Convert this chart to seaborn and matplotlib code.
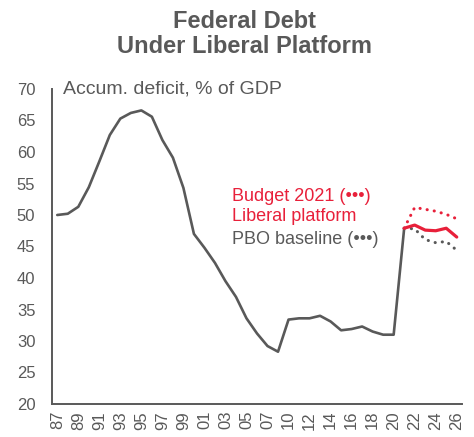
import numpy as np
import pandas as pd
import matplotlib
matplotlib.use("Agg")
import matplotlib.pyplot as plt
import seaborn as sns

# ---------------- data ----------------
categories = ['87', '88', '89', '90', '91', '92', '93', '94', '95', '96',
              '97', '98', '99', '00', '01', '02', '03', '04', '05', '06',
              '07', '09', '10', '11', '12', '13', '14', '15', '16', '17',
              '18', '19', '20', '21', '22', '23', '24', '25', '26']

historical = [50.0, 50.2, 51.3, 54.4, 58.5, 62.7, 65.3, 66.2, 66.6, 65.6,
              61.9, 59.1, 54.3, 47.0, 44.8, 42.4, 39.5, 37.0, 33.6, 31.2,
              29.2, 28.3, 33.4, 33.6, 33.6, 34.0, 33.1, 31.7, 31.9, 32.3,
              31.5, 31.0, 31.0, 47.9]

liberal_platform = [47.9, 48.4, 47.6, 47.5, 47.9, 46.5]
budget_2021 = [47.9, 51.2, 50.9, 50.6, 50.1, 49.4]
pbo_baseline = [47.9, 47.8, 46.1, 45.6, 45.8, 44.4]

y_ticks = [20, 25, 30, 35, 40, 45, 50, 55, 60, 65, 70]

# ---------------- style ----------------
sns.set_style("white")
plt.rcParams['font.family'] = ['Liberation Sans', 'DejaVu Sans']

GRAY = '#595959'
RED = '#E8203A'

fig = plt.figure(figsize=(4.74, 4.37), dpi=100)
ax = fig.add_axes([52 / 474, 1 - 404 / 437, 410 / 474, 315 / 437])

pos = np.arange(len(categories))
n_hist = len(historical)
proj_pos = pos[n_hist - 1:]

hist_df = pd.DataFrame({'x': pos[:n_hist], 'y': historical})
sns.lineplot(data=hist_df, x='x', y='y', ax=ax, color=GRAY, linewidth=1.9)

sns.lineplot(x=proj_pos, y=budget_2021, ax=ax, color=RED, linewidth=2.2,
             linestyle=(0, (0.05, 2.3)), dash_capstyle='round')
sns.lineplot(x=proj_pos, y=pbo_baseline, ax=ax, color=GRAY, linewidth=2.2,
             linestyle=(0, (0.05, 2.3)), dash_capstyle='round')
sns.lineplot(x=proj_pos, y=liberal_platform, ax=ax, color=RED, linewidth=2.3)

ax.set_xlim(-0.5, len(categories) - 0.5)
ax.set_ylim(20, 70)

# axes / ticks
for s in ['top', 'right']:
    ax.spines[s].set_visible(False)
for s in ['left', 'bottom']:
    ax.spines[s].set_color(GRAY)
    ax.spines[s].set_linewidth(1.4)

ax.set_yticks(y_ticks)
ax.tick_params(axis='y', direction='in', length=5, width=1.2, color=GRAY,
               labelcolor=GRAY, labelsize=12, pad=12)

ax.set_xticks(pos[::2])
ax.set_xticklabels(categories[::2], rotation=90)
ax.set_xticks(np.arange(-0.5, len(categories), 3), minor=True)
ax.tick_params(axis='x', which='major', length=0, labelcolor=GRAY,
               labelsize=12, pad=5)
ax.tick_params(axis='x', which='minor', direction='in', length=5, width=1.2,
               color=GRAY)
ax.set_xlabel('')
ax.set_ylabel('')

# unit label
ax.annotate('Accum. deficit, % of GDP', xy=(11 / 410, 1.0),
            xycoords='axes fraction', ha='left', va='center',
            fontsize=14, color=GRAY)

# series labels
ax.text(16.6, 52.9, 'Budget 2021 (\u2022\u2022\u2022)', color=RED,
        fontsize=13, ha='left', va='center')
ax.text(16.6, 49.7, 'Liberal platform', color=RED,
        fontsize=13, ha='left', va='center')
ax.text(16.6, 46.1, 'PBO baseline (\u2022\u2022\u2022)', color=GRAY,
        fontsize=13, ha='left', va='center')

# title
fig.text(244 / 474, 1 - 34 / 437, 'Federal Debt\nUnder Liberal Platform',
         ha='center', va='center', fontsize=17, fontweight='bold',
         color=GRAY, linespacing=1.15)

fig.savefig('out.png', dpi=100)
